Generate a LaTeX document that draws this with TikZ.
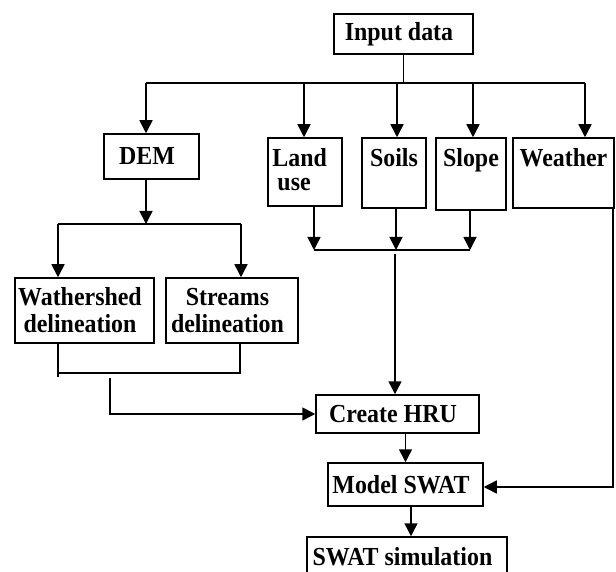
\documentclass[tikz,border=0pt]{standalone}
\usepackage{fontspec}
\setmainfont[FakeStretch=0.92]{Liberation Serif}
\usetikzlibrary{arrows.meta}
\newcommand\rpad{\hspace*{9pt}}
\begin{document}
\begin{tikzpicture}[x=1pt,y=-1pt,
  txt/.style={font=\fontsize{26}{27}\selectfont\bfseries},
  box/.style={draw, line width=1.5pt, rectangle, inner sep=0pt, txt, align=center},
  conn/.style={line width=1.5pt},
  arr/.style={conn, -{Triangle[length=13pt,width=13pt]}},
]
\useasboundingbox (0,0) rectangle (616,572);
\clip (0,0) rectangle (616,572);

% boxes
\node[box, minimum width=139pt, minimum height=40pt] (input) at (403.5,34) {Input data\rpad};
\node[box, minimum width=95pt, minimum height=45pt] (dem) at (151.5,156.5) {DEM\rpad};
\node[box, minimum width=74pt, minimum height=68pt,
  label={[anchor=north west, inner sep=0pt, align=left,
          font=\fontsize{26}{24}\selectfont\bfseries,
          xshift=5pt, yshift=-11.5pt]north west:Land\\\hspace*{5pt}use}] (landuse) at (305,172) {};
\node[box, minimum width=64pt, text height=29pt, text depth=41pt] (soils) at (394,173) {Soils};
\node[box, minimum width=70pt, text height=29pt, text depth=43pt] (slope) at (471,174) {Slope};
\node[box, minimum width=101pt, text height=29pt, text depth=41pt] (weather) at (563.5,173) {Weather};
\node[box, minimum width=139pt, minimum height=65pt] (wshed) at (84.5,310.5) {Wathershed\rpad\\delineation\rpad};
\node[box, minimum width=132pt, minimum height=65pt] (streams) at (232,310.5) {Streams\rpad\\delineation\rpad};
\node[box, minimum width=163pt, minimum height=38pt] (hru) at (397.5,414) {Create HRU\rpad};
\node[box, minimum width=155pt, minimum height=43pt] (model) at (405.5,484.5) {Model SWAT\rpad};
\node[box, minimum width=200pt, minimum height=40pt] (sim) at (407,557) {SWAT simulation\rpad};

% input bus
\coordinate (bL) at (146,83);
\coordinate (bR) at (585,83);
\coordinate (bLand) at (304,83);
\coordinate (bSoil) at (397,83);
\coordinate (bSlope) at (473,83);
\draw[conn] (input.south) -- (input.south |- bL);
\draw[conn] (bL) -- (bR);
\draw[arr] (bL) -- (bL |- dem.north);
\draw[arr] (bLand) -- (bLand |- landuse.north);
\draw[arr] (bSoil) -- (bSoil |- soils.north);
\draw[arr] (bSlope) -- (bSlope |- slope.north);
\draw[arr] (bR) -- (bR |- weather.north);

% DEM split
\coordinate (d0) at (146,224);
\coordinate (dL) at (58,224);
\coordinate (dR) at (241,224);
\draw[arr] (d0 |- dem.south) -- (d0);
\draw[conn] (dL) -- (dR);
\draw[arr] (dL) -- (dL |- wshed.north);
\draw[arr] (dR) -- (dR |- streams.north);

% delineation join
\coordinate (jL) at (58,373);
\coordinate (jR) at (240,373);
\draw[conn] (jL |- wshed.south) -- (jL) -- (jR) -- (jR |- streams.south);
\draw[conn] (jL) -- ++(0,4);
\coordinate (h0) at (110,378);
\coordinate (h1) at (110,414);
\draw[arr] (h0) -- (h1) -- (hru.west);

% land use / soils / slope join
\coordinate (mL) at (314,250);
\coordinate (mS) at (396,250);
\coordinate (mR) at (470,250);
\coordinate (m1) at (395,254);
\draw[arr] (mL |- landuse.south) -- (mL);
\draw[arr] (mS |- soils.south) -- (mS);
\draw[arr] (mR |- slope.south) -- (mR);
\draw[conn] (mL) -- (mR);
\draw[arr] (m1) -- (m1 |- hru.north);

% lower chain
\draw[arr] (hru.south -| model.north) -- (model.north);
\coordinate (s0) at (411,506);
\draw[arr] (s0) -- (s0 |- sim.north);

% weather to model
\coordinate (w1) at (613,487);
\draw[arr] (w1 |- weather.south) -- (w1) -- (w1 -| model.east);
\end{tikzpicture}
\end{document}
